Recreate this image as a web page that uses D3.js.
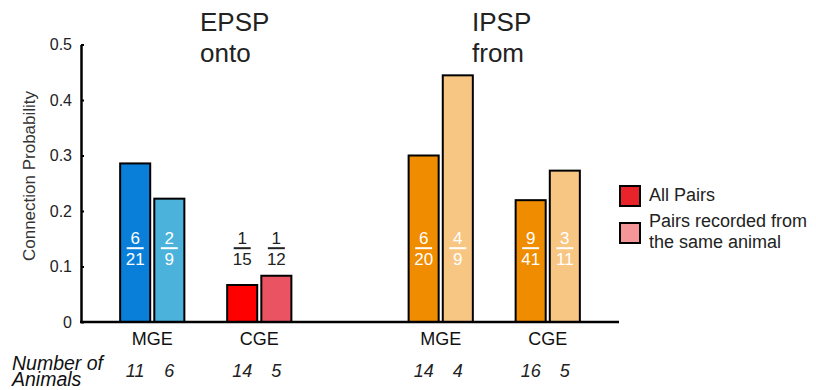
<!DOCTYPE html>
<html>
<head>
<meta charset="utf-8">
<script src="https://cdn.jsdelivr.net/npm/d3@7"></script>
<style>
  html, body { margin: 0; padding: 0; background: #fff; }
  svg { display: block; font-family: "Liberation Sans", Arial, Helvetica, sans-serif; }
</style>
</head>
<body>
<svg id="chart" width="816" height="390"></svg>
<script>
// ---- data ----
const panels = ["EPSP", "IPSP"];
const panelSub = ["onto", "from"];
const regions = ["MGE", "CGE"];
const seriesNames = ["All Pairs", "Pairs recorded from the same animal"];
// groups in order: EPSP-MGE, EPSP-CGE, IPSP-MGE, IPSP-CGE ; each [all pairs, same animal]
const connected = [[6, 2], [1, 1], [6, 4], [9, 3]];
const tested    = [[21, 9], [15, 12], [20, 9], [41, 11]];
const animals   = [[11, 6], [14, 5], [14, 4], [16, 5]];
const yTicks = [0, 0.1, 0.2, 0.3, 0.4, 0.5];
const groupColors = [
  ["#0a7fd9", "#4ab2db"],
  ["#ff0000", "#ea5462"],
  ["#ef8c00", "#f8c683"],
  ["#ef8c00", "#f8c683"]
];
const legendColors = ["#e8232a", "#f49697"];

// ---- layout ----
const svg = d3.select("#chart");
const x0 = 81, x1 = 619, yTop = 44.5, yBase = 322;

const y = d3.scaleLinear().domain([0, 0.5]).range([yBase, yTop]);
const xPanel = d3.scaleBand().domain(panels).range([x0, x1]).paddingInner(0.258).paddingOuter(0.0615);
const xRegion = d3.scaleBand().domain(regions).range([0, xPanel.bandwidth()]).paddingInner(0.4).paddingOuter(0.2);
const xPair = d3.scaleBand().domain([0, 1]).range([0, xRegion.bandwidth()]).paddingInner(0.12).paddingOuter(0);

const groups = [];
panels.forEach((p, pi) => regions.forEach((r, ri) => {
  const gi = pi * regions.length + ri;
  groups.push({ panel: p, region: r, gi });
}));

const bars = [];
groups.forEach(g => {
  [0, 1].forEach(k => {
    bars.push({
      g, k,
      num: connected[g.gi][k],
      den: tested[g.gi][k],
      value: connected[g.gi][k] / tested[g.gi][k],
      animals: animals[g.gi][k],
      color: groupColors[g.gi][k],
      x: xPanel(g.panel) + xRegion(g.region) + xPair(k)
    });
  });
});

// bars
svg.append("g").selectAll("rect").data(bars).join("rect")
  .attr("x", d => d.x)
  .attr("y", d => y(d.value))
  .attr("width", xPair.bandwidth())
  .attr("height", d => yBase - y(d.value))
  .attr("fill", d => d.color)
  .attr("stroke", "#000")
  .attr("stroke-width", 2);

// y axis
const yAxis = d3.axisLeft(y).tickValues(yTicks)
  .tickFormat(d => d === 0 ? "0" : d3.format(".1f")(d))
  .tickSizeInner(-3).tickSizeOuter(0).tickPadding(9);
const ya = svg.append("g").attr("transform", `translate(${x0},0)`).call(yAxis);
ya.select(".domain").attr("stroke", "#000").attr("stroke-width", 2.5);
ya.selectAll(".tick line").attr("stroke", "#000").attr("stroke-width", 2);
ya.selectAll(".tick text").attr("font-size", 16).attr("fill", "#222")
  .attr("font-family", "'Liberation Sans', Arial, sans-serif");

// baseline
svg.append("line").attr("x1", x0 - 1).attr("x2", x1).attr("y1", yBase).attr("y2", yBase)
  .attr("stroke", "#000").attr("stroke-width", 2.5);

// y title
svg.append("text")
  .attr("transform", `translate(35,176) rotate(-90)`)
  .attr("text-anchor", "middle").attr("font-size", 17).attr("fill", "#333")
  .text("Connection Probability");

// region labels
svg.append("g").selectAll("text").data(groups).join("text")
  .attr("x", g => xPanel(g.panel) + xRegion(g.region) + xRegion.bandwidth() / 2)
  .attr("y", 345).attr("text-anchor", "middle").attr("font-size", 18).attr("fill", "#111")
  .text(g => g.region);

// panel titles
const titleX = [200, 472];
panels.forEach((p, i) => {
  const t = svg.append("text").attr("font-size", 26).attr("fill", "#222");
  t.append("tspan").attr("x", titleX[i]).attr("y", 30.5).text(p);
  t.append("tspan").attr("x", titleX[i]).attr("y", 61.5).text(panelSub[i]);
});

// fractions
const fracLineY = y(0.133);
const fracG = svg.append("g").attr("font-size", 17);
bars.forEach(d => {
  const cx = d.x + xPair.bandwidth() / 2;
  const inside = y(d.value) < fracLineY - 25;
  const col = inside ? "#fff" : "#222";
  fracG.append("text").attr("x", cx).attr("y", fracLineY - 3.7).attr("text-anchor", "middle")
    .attr("fill", col).text(d.num);
  fracG.append("line").attr("x1", cx - 8.5).attr("x2", cx + 8.5)
    .attr("y1", fracLineY).attr("y2", fracLineY)
    .attr("stroke", col).attr("stroke-width", 2);
  fracG.append("text").attr("x", cx).attr("y", fracLineY + 17.3).attr("text-anchor", "middle")
    .attr("fill", col).text(d.den);
});

// number of animals
const na = svg.append("text").attr("font-size", 19.5).attr("font-style", "italic").attr("fill", "#111");
na.append("tspan").attr("x", 12).attr("y", 370).attr("dy", 0).text("Number of");
na.append("tspan").attr("x", 12).attr("y", 385.5).text("Animals");
svg.append("g").selectAll("text").data(bars).join("text")
  .attr("x", d => d.x + xPair.bandwidth() / 2)
  .attr("y", 376.5).attr("text-anchor", "middle")
  .attr("font-size", 18).attr("font-style", "italic").attr("fill", "#222")
  .text(d => d.animals);

// legend
const lg = svg.append("g");
seriesNames.forEach((s, i) => {
  const ly = i === 0 ? 186 : 223;
  lg.append("rect").attr("x", 620).attr("y", ly).attr("width", 20).attr("height", 20)
    .attr("fill", legendColors[i]).attr("stroke", "#000").attr("stroke-width", 2);
});
lg.append("text").attr("x", 649).attr("y", 200.7).attr("font-size", 18).attr("fill", "#222").text(seriesNames[0]);
const l2 = lg.append("text").attr("font-size", 18).attr("fill", "#222");
l2.append("tspan").attr("x", 649).attr("y", 226.7).text("Pairs recorded from");
l2.append("tspan").attr("x", 649).attr("y", 247.5).text("the same animal");
</script>
</body>
</html>
